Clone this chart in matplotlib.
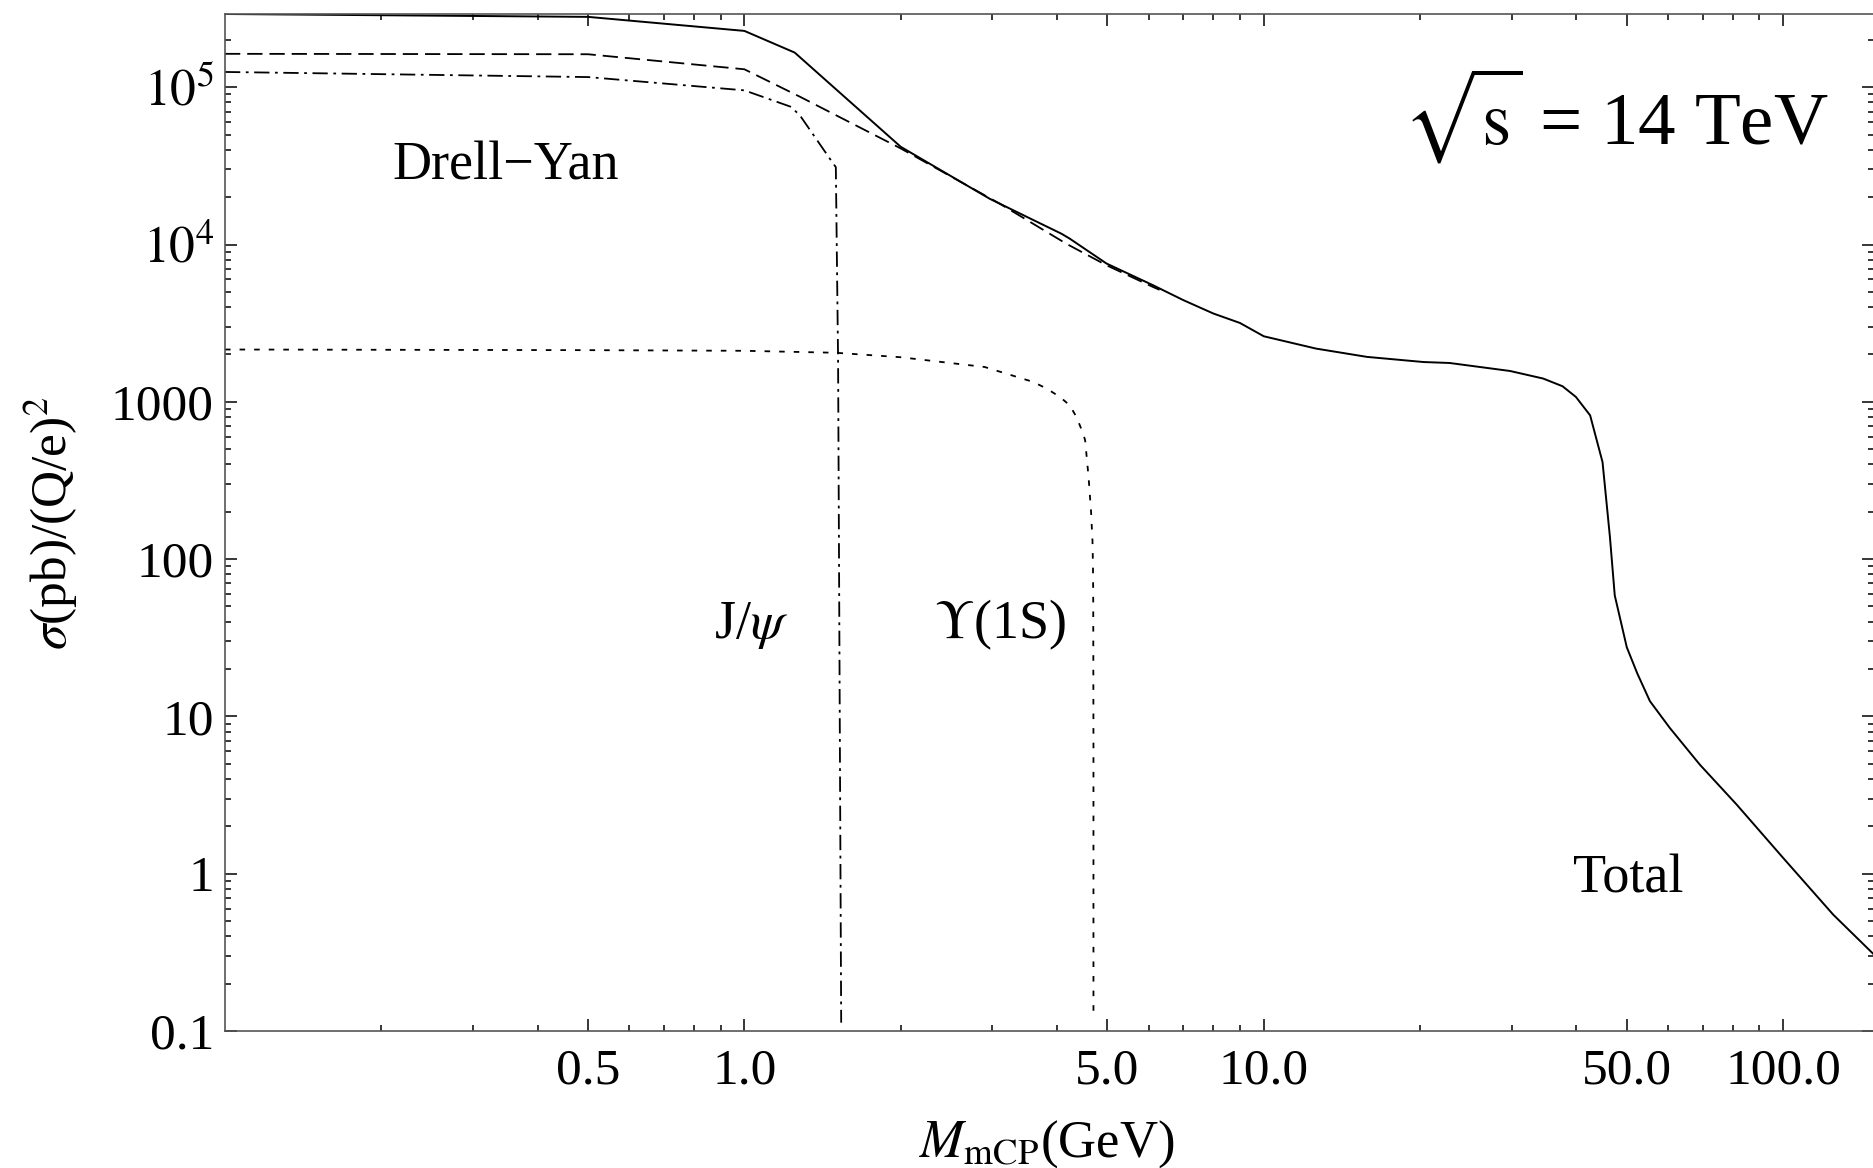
import numpy as np
import matplotlib
matplotlib.use("Agg")
import matplotlib.pyplot as plt
from matplotlib.ticker import FixedLocator, NullFormatter

plt.rcParams['font.family'] = ['Liberation Serif', 'DejaVu Serif']
plt.rcParams['mathtext.fontset'] = 'stix'
plt.rcParams['lines.scale_dashes'] = False

# masa czastki (GeV) i przekroje czynne sigma(pb)/(Q/e)^2
total_x = [0.1, 0.5, 1.0, 1.25, 2.0, 2.97, 4.08, 4.23, 4.98, 6.12, 7.0, 8.0, 9.0, 10.0,
           12.6, 15.8, 20.3, 22.8, 29.8, 34.5, 37.6, 39.9, 42.5, 44.9, 46.4, 47.4,
           50.0, 52.4, 55.4, 60.5, 69.1, 81.3, 100.0, 124.8, 149.6]
total_y = [2.92e5, 2.8e5, 2.28e5, 1.66e5, 4.18e4, 1.95e4, 1.17e4, 1.09e4, 7570, 5510, 4430,
           3640, 3170, 2610, 2180, 1930, 1790, 1765, 1570, 1406, 1256, 1074, 820, 414,
           138, 58.8, 27.5, 18.7, 12.5, 8.45, 4.94, 2.76, 1.26, 0.55, 0.306]

dy_x = [0.1, 0.5, 1.0, 1.28, 2.0, 3.1, 4.17, 4.98, 6.12, 6.3]
dy_y = [1.63e5, 1.62e5, 1.30e5, 8.69e4, 4.08e4, 1.82e4, 1.01e4, 7380, 5370, 5150]

jpsi_x = [0.1, 0.5, 1.0, 1.23, 1.28, 1.46, 1.50, 1.515, 1.536]
jpsi_y = [1.25e5, 1.16e5, 9.55e4, 7.5e4, 6.6e4, 3.52e4, 3.1e4, 1840, 0.113]

ups_x = [0.1, 0.5, 1.0, 1.5, 2.0, 2.9, 3.6, 3.82, 4.05, 4.23, 4.36, 4.49, 4.53, 4.6,
         4.65, 4.68, 4.69, 4.695, 4.70, 4.70]
ups_y = [2150, 2130, 2110, 2050, 1920, 1665, 1337, 1213, 1074, 951, 800, 628, 569, 330,
         200, 130, 90, 60, 6.7, 0.13]

x_major = [0.5, 1.0, 5.0, 10.0, 50.0, 100.0]
x_major_labels = ["0.5", "1.0", "5.0", "10.0", "50.0", "100.0"]
y_major = [0.1, 1, 10, 100, 1000, 1e4, 1e5]
y_major_labels = ["0.1", "1", "10", "100", "1000", r"$10^4$", r"$10^5$"]

fig = plt.figure(figsize=(18.74, 11.68), dpi=100)
ax = fig.add_axes([225 / 1874, 137 / 1168, 1649 / 1874, 1017 / 1168])

ax.plot(total_x, total_y, color="black", lw=1.4, solid_joinstyle="round")
ax.plot(dy_x, dy_y, color="black", lw=1.3, linestyle=(0, (11, 5)))
ax.plot(jpsi_x, jpsi_y, color="black", lw=1.3, linestyle=(0, (11, 4, 2, 4)))
ax.plot(ups_x, ups_y, color="black", lw=1.3, linestyle=(0, (4, 6.5)))

ax.set_xscale("log")
ax.set_yscale("log")
ax.set_xlim(0.1, 149.6)
ax.set_ylim(0.1, 2.92e5)

ax.xaxis.set_major_locator(FixedLocator(x_major))
ax.set_xticklabels(x_major_labels)
x_minor = [m * d for d in (0.1, 1, 10, 100) for m in range(2, 10)]
x_minor = [v for v in x_minor if v not in x_major and v < 149.6]
ax.xaxis.set_minor_locator(FixedLocator(x_minor))
ax.xaxis.set_minor_formatter(NullFormatter())

ax.yaxis.set_major_locator(FixedLocator(y_major))
ax.set_yticklabels(y_major_labels)
y_minor = [m * 10.0 ** e for e in range(-1, 6) for m in range(2, 10)]
ax.yaxis.set_minor_locator(FixedLocator([v for v in y_minor if v < 2.92e5]))
ax.yaxis.set_minor_formatter(NullFormatter())

ax.tick_params(which="both", direction="in", top=True, right=True, width=1.1, colors="black",
               labelsize=37)
ax.tick_params(which="major", length=8.6)
ax.tick_params(which="minor", length=4.5)
ax.tick_params(axis="x", which="major", pad=12)
ax.tick_params(axis="y", which="major", pad=8)
for s in ax.spines.values():
    s.set_color("#555555")
    s.set_linewidth(1.2)

ax.text(0.170, 0.837, "Drell\u2212Yan", transform=ax.transAxes, ha="center", va="baseline", fontsize=39)
ax.text(0.319, 0.3864, r"J/$\psi$", transform=ax.transAxes, ha="center", va="baseline", fontsize=39)
ax.text(0.470, 0.3864, r"$\Upsilon$(1S)", transform=ax.transAxes, ha="center", va="baseline", fontsize=39)
ax.text(0.8508, 0.1364, "Total", transform=ax.transAxes, ha="center", va="baseline", fontsize=39)
ax.text(0.9727, 0.900, r"$\sqrt{\mathrm{s}}$ = 14 TeV", transform=ax.transAxes, ha="right",
        va="center", fontsize=54)

ax.text(0.4985, -0.1236, r"$M_{\mathrm{mCP}}$(GeV)", transform=ax.transAxes, ha="center",
        va="baseline", fontsize=38)
ax.text(-0.106, 0.499, r"$\sigma$(pb)/(Q/e)$^2$", transform=ax.transAxes, ha="center",
        va="center", rotation=90, fontsize=37)

fig.savefig("out.png", dpi=100)
